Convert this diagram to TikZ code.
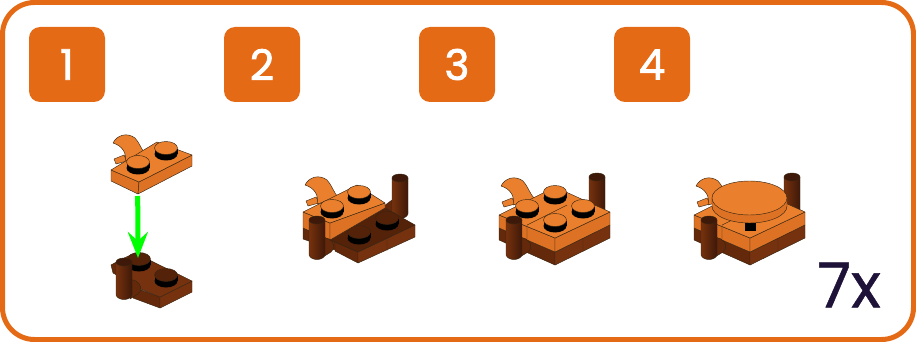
\documentclass[tikz,border=0pt]{standalone}
\usepackage{fontspec}
\usepackage{xcolor}
\setmainfont{Poppins}
\newfontfamily\badgefont[FakeBold=2]{Poppins}
\newfontfamily\countfont[FakeBold=0.8]{Poppins}
\usetikzlibrary{positioning, arrows.meta}
\definecolor{FrameOrange}{RGB}{229,106,21}
\definecolor{BrickTop}{RGB}{234,128,45}
\definecolor{BrickSide}{RGB}{222,114,36}
\definecolor{DarkTop}{RGB}{84,33,9}
\definecolor{DarkSide}{RGB}{100,40,10}
\definecolor{DarkFace}{RGB}{118,50,14}
\definecolor{PegDark}{RGB}{62,24,8}
\definecolor{CountInk}{RGB}{30,18,56}
\tikzset{
  edge/.style={draw=black!70!brown, line width=0.45pt, line join=round},
  badge/.style={fill=FrameOrange, rounded corners=11pt, minimum width=76pt, minimum height=75pt, inner sep=0pt,
    text=white, font=\badgefont\fontsize{42}{42}\selectfont},
  pics/stud/.style={code={
    \fill[black] (-11.5,0) rectangle (11.5,5);
    \fill[black] (0,5) ellipse [x radius=11.5, y radius=6.5];
    \draw[edge, fill=#1] (0,-1) ellipse [x radius=11.5, y radius=6.5];
  }},
  pics/hook/.style={code={
    \draw[edge, fill=BrickTop] (3,-11) -- (13,-15) -- (16,-9) -- (5,-6) -- cycle;
    \draw[edge, fill=BrickTop] (2,-27) .. controls (6,-35) and (16,-38) .. (24,-32)
      .. controls (29,-27) and (30,-20) .. (36,-14) -- (14,-8)
      .. controls (16,-16) and (12,-24) .. (2,-27) -- cycle;
  }},
  pics/peg/.style={code={
    \draw[edge, left color=DarkFace, right color=PegDark] (-8,0) -- (-8,#1) .. controls (-6,#1+6) and (6,#1+6) .. (8,#1) -- (8,0) -- cycle;
    \draw[edge, fill=PegDark] (0,0) ellipse [x radius=8, y radius=4];
  }},
  pics/elbow/.style={code={
    \draw[edge, fill=DarkSide] (-2,-9) -- (4,-7) .. controls (9,-4) and (11,2) .. (6,6) -- (-2,11) -- cycle;
  }},
  pics/base/.style={code={
    \draw[edge, fill=DarkSide] (0,13) -- (56,37) -- (56,50) -- (0,25) -- cycle;
    \draw[edge, fill=DarkFace] (56,37) -- (111,10) -- (111,23) -- (56,50) -- cycle;
    \draw[edge, fill=BrickSide] (0,0) -- (56,23) -- (56,37) -- (0,13) -- cycle;
    \draw[edge, fill=BrickSide] (56,23) -- (111,-3) -- (111,10) -- (56,37) -- cycle;
    \draw[edge, fill=BrickTop] (0,0) -- (56,-28) -- (111,-3) -- (56,23) -- cycle;
    \draw[edge] (28,10) -- (68,-10) (28,10) -- (28,24) (84,23) -- (84,36);
  }},
}
\begin{document}
\begin{tikzpicture}[x=1pt, y=-1pt]
  \useasboundingbox (0,0) rectangle (916,342);
  \draw[FrameOrange, line width=5pt, rounded corners=32pt] (2.5,2.5) rectangle (913.5,339.5);
  \node[badge] (step1) at (67,64.5) {1};
  \node[badge] (step2) at (262,64.5) {2};
  \node[badge] (step3) at (457,64.5) {3};
  \node[badge] (step4) at (652,64.5) {4};
  \node[text=CountInk, font=\countfont\fontsize{62}{62}\selectfont, anchor=center] (count) at (849,285) {7x};

  % step 1, lower part
  \draw[edge, fill=DarkSide] (111,265) -- (122,259) -- (122,278) -- (113,273) -- cycle;
  \draw[edge, fill=DarkSide] (133,287) -- (160,297) -- (160,308) -- (133,298) -- cycle;
  \draw[edge, fill=DarkFace] (160,297) -- (192,281) -- (192,292) -- (160,308) -- cycle;
  \draw[edge, fill=DarkFace] (122,259) -- (135,253) -- (192,281) -- (160,297) -- (128,284) -- cycle;
  \pic at (139,260) {stud=DarkTop};
  \pic at (166,276) {stud=DarkTop};
  \pic at (132,288) {elbow};
  \pic at (124,262) {peg=33};
  % step 1, upper part
  \pic at (111,170) {hook};
  \draw[edge, fill=BrickSide] (111,170) -- (139,182) -- (138,194) -- (111,181) -- cycle;
  \draw[edge, fill=BrickSide] (139,182) -- (192,155) -- (192,166) -- (138,194) -- cycle;
  \draw[edge, fill=BrickTop] (111,170) -- (157,142) -- (192,155) -- (139,182) -- cycle;
  \pic at (138,163) {stud=BrickTop};
  \pic at (166,149) {stud=BrickTop};
  \coordinate (dropstart) at (137.7,196);
  \coordinate (dropend) at (138,258);
  \draw[-{Stealth[length=26pt, width=20pt, inset=9pt]}, draw=green, fill=green, line width=5pt] (dropstart) -- (dropend);

  % step 2
  \draw[edge, fill=DarkSide] (392,200) -- (384,206) -- (388,214) -- (400,219) -- (408,212) -- cycle;
  \pic at (400,178) {peg=36};
  \draw[edge, fill=DarkSide] (303,228) -- (335,241) -- (335,250) -- (303,239) -- cycle;
  \draw[edge, fill=DarkSide] (335,240) -- (358,252) -- (358,263) -- (335,251) -- cycle;
  \draw[edge, fill=DarkFace] (358,252) -- (415,225) -- (415,237) -- (358,263) -- cycle;
  \draw[edge, fill=DarkTop] (330,240) -- (385,208) -- (415,225) -- (358,252) -- cycle;
  \draw[edge] (387,239) -- (387,251) (358,252) -- (330,240);
  \pic at (359,233) {stud=DarkTop};
  \pic at (387,219) {stud=DarkTop};
  \pic at (303,212) {hook};
  \draw[edge, fill=BrickSide] (303,212) -- (330,223) -- (330,240) -- (303,228) -- cycle;
  \draw[edge, fill=BrickSide] (330,223) -- (385,203) -- (385,208) -- (330,240) -- cycle;
  \draw[edge, fill=BrickTop] (303,212) -- (357,185) -- (385,203) -- (330,223) -- cycle;
  \pic at (332,207) {stud=BrickTop};
  \pic at (359,193) {stud=BrickTop};
  \pic at (325,246) {elbow};
  \pic at (317,220) {peg=35};

  % step 3
  \pic at (597,177) {peg=36};
  \pic at (499,213) {hook};
  \pic at (499,215) {base};
  \pic at (555,193) {stud=BrickTop};
  \pic at (527,207) {stud=BrickTop};
  \pic at (583,207) {stud=BrickTop};
  \pic at (555,221) {stud=BrickTop};
  \pic at (522,246) {elbow};
  \pic at (514,220) {peg=35};

  % step 4
  \pic at (792,177) {peg=36};
  \pic at (694,213) {hook};
  \pic at (694,215) {base};
  \fill[black] (745,222) rectangle (756,231);
  \draw[edge, fill=BrickSide] (712,198) -- (712,206) arc[start angle=180, end angle=360, x radius=37.5, y radius=-17] -- (787,198) -- cycle;
  \draw[edge, fill=BrickTop] (749.5,198) ellipse [x radius=37.5, y radius=17];
  \pic at (717,246) {elbow};
  \pic at (709,220) {peg=35};
\end{tikzpicture}
\end{document}
